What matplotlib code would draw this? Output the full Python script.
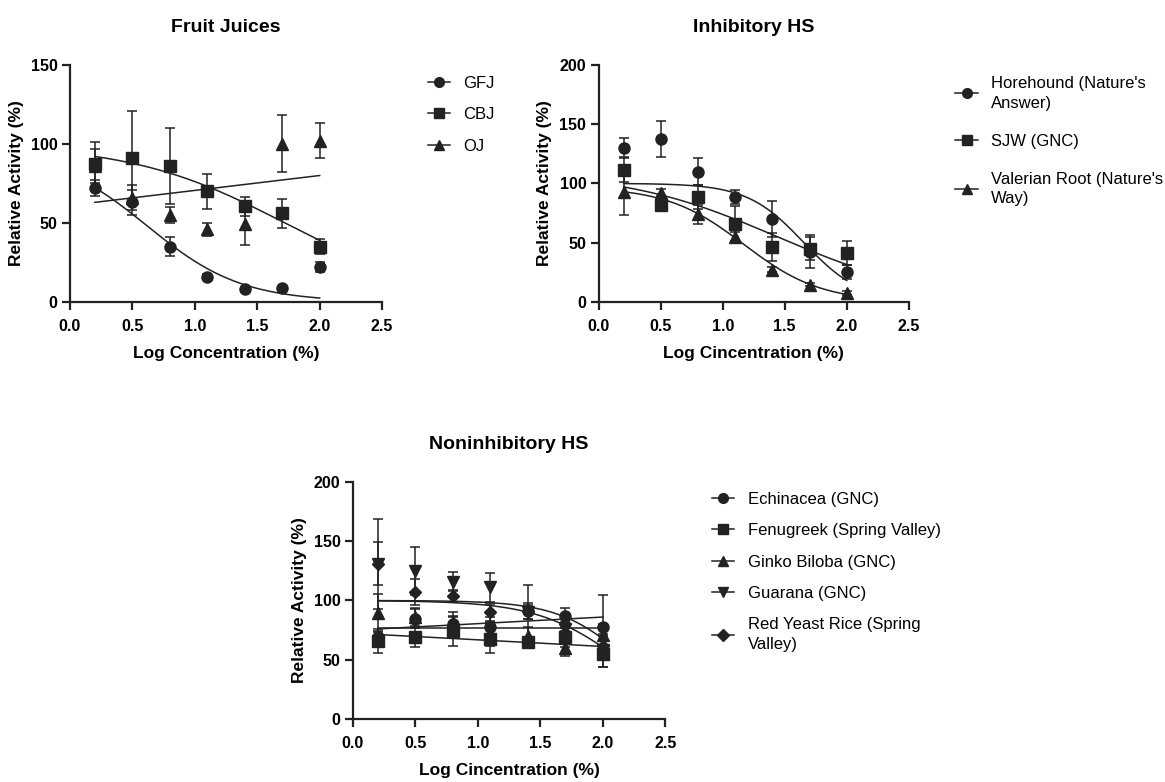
import numpy as np
import matplotlib
matplotlib.use("Agg")
import matplotlib.pyplot as plt
from matplotlib.lines import Line2D

plt.rcParams['font.family'] = ['Liberation Sans', 'DejaVu Sans']

# log concentration (%) for every series
log_conc = [0.2, 0.5, 0.8, 1.1, 1.4, 1.7, 2.0]

# --- Fruit juices ---
gfj = [72, 63, 35, 16, 8, 9, 22]
gfj_err = [5, 8, 6, 1.5, 1, 1, 3]
cbj = [87, 91, 86, 70, 60.5, 56, 35]
cbj_err = [14, 30, 24, 11, 6, 9, 5]
oj = [86, 66, 55, 46, 49, 100, 102]
oj_err = [11, 8, 5, 4, 13, 18, 11]

# --- Inhibitory herbal supplements ---
horehound = [130, 137.5, 110, 88.5, 70, 42.5, 25.5]
horehound_err = [8, 15, 11, 6, 15, 14, 6]
sjw = [111.5, 81.5, 88.5, 66, 46.5, 45, 41]
sjw_err = [10, 4, 10, 15, 12, 10, 10]
valerian = [93, 92, 74, 55, 27, 14.5, 7.5]
valerian_err = [20, 3, 8, 4, 2, 1.5, 1.5]

# --- Non-inhibitory herbal supplements ---
echinacea = [69, 84.5, 80, 78, 91, 86.5, 78]
echinacea_err = [5, 8, 7, 8, 22, 7, 27]
fenugreek = [66, 69.5, 74, 67.5, 65, 69, 55]
fenugreek_err = [10, 9, 12, 12, 2, 8, 11]
ginko = [89.5, 86, 82, 72, 70, 60, 70.5]
ginko_err = [16, 8, 8, 10, 8, 7, 10]
guarana = [131, 125, 116, 111, 90, 76, 58]
guarana_err = [18, 20, 8, 12, 6, 6, 14]
red_yeast = [131, 107, 104, 90, 91, 80, 62]
red_yeast_err = [38, 11, 5, 7, 7, 6, 8]

# fitted curves: 4PL (bottom, top, logEC50, hill) or straight line (intercept, slope)
fits_fruit = [('4pl', (0, 96, 0.62, 1.15)),
              ('4pl', (0, 100, 1.72, 0.70)),
              ('lin', (61.1, 9.44))]
fits_inhib = [('4pl', (0, 100, 1.654, 1.9)),
              ('4pl', (0, 110, 1.438, 0.705)),
              ('4pl', (0, 97, 1.17, 1.4))]
fits_noninhib = [('lin', (74.9, 5.56)),
                 ('lin', (72.4, -5.6)),
                 ('lin', (76.7, 0.0)),
                 ('4pl', (0, 100, 2.145, 1.29)),
                 ('4pl', (0, 100, 2.205, 1.56))]

INK = '#222222'


def fit_curve(kind, p, xs):
    if kind == '4pl':
        bottom, top, c, h = p
        return bottom + (top - bottom) / (1 + 10 ** ((xs - c) * h))
    return p[0] + p[1] * xs


def panel(ax, title, series, markers, fits, labels, ymax, ystep, xlabel,
          leg_anchor, leg_spacing):
    xs = np.linspace(min(log_conc), max(log_conc), 200)
    for (kind, p) in fits:
        ax.plot(xs, fit_curve(kind, p, xs), color=INK, lw=1.1, zorder=2)
    for (vals, errs), m in zip(series, markers):
        ms = 8 if m in ('o', 's') else 8.5
        if m == 'D':
            ms = 6
        ax.errorbar(log_conc, vals, yerr=errs, fmt=m, color=INK, ms=ms,
                    elinewidth=1.1, capsize=3.5, capthick=1.1, zorder=3)
    ax.set_xlim(0, 2.5)
    ax.set_ylim(0, ymax)
    ax.set_xticks(np.arange(0, 2.51, 0.5))
    ax.set_yticks(np.arange(0, ymax + 1, ystep))
    ax.set_xticklabels([f"{v:.1f}" for v in np.arange(0, 2.51, 0.5)])
    for s in ('top', 'right'):
        ax.spines[s].set_visible(False)
    for s in ('left', 'bottom'):
        ax.spines[s].set_linewidth(1.6)
        ax.spines[s].set_color(INK)
    ax.tick_params(axis='both', width=1.6, length=6, color=INK, labelsize=11.5)
    ax.tick_params(axis='x', pad=6)
    ax.tick_params(axis='y', pad=3)
    for t in ax.get_xticklabels() + ax.get_yticklabels():
        t.set_fontweight('bold')
    ax.set_xlabel(xlabel, fontsize=12.5, fontweight='bold', labelpad=9)
    ax.set_ylabel('Relative Activity (%)', fontsize=12.5, fontweight='bold', labelpad=5)
    ax.set_title(title, fontsize=14, fontweight='bold', pad=24)
    handles = [Line2D([], [], color=INK, lw=1.1, marker=m,
                      ms=(6 if m == 'D' else 7)) for m in markers]
    leg = ax.legend(handles, labels, loc='upper left', bbox_to_anchor=leg_anchor,
                    bbox_transform=ax.figure.transFigure, frameon=False, fontsize=12,
                    handlelength=1.35, handletextpad=0.8, labelspacing=leg_spacing,
                    borderpad=0, borderaxespad=0)
    for t in leg.get_texts():
        t.set_linespacing(1.4)


fig = plt.figure(figsize=(11.65, 7.82), dpi=100)
ax1 = fig.add_axes([0.060, 0.614, 0.268, 0.303])
ax2 = fig.add_axes([0.514, 0.614, 0.266, 0.303])
ax3 = fig.add_axes([0.303, 0.0806, 0.268, 0.303])

panel(ax1, 'Fruit Juices',
      [(gfj, gfj_err), (cbj, cbj_err), (oj, oj_err)], ['o', 's', '^'],
      fits_fruit, ['GFJ', 'CBJ', 'OJ'], 150, 50,
      'Log Concentration (%)', (0.367, 0.903), 0.98)

panel(ax2, 'Inhibitory HS',
      [(horehound, horehound_err), (sjw, sjw_err), (valerian, valerian_err)],
      ['o', 's', '^'], fits_inhib,
      ["Horehound (Nature's\nAnswer)", 'SJW (GNC)', "Valerian Root (Nature's\nWay)"],
      200, 50, 'Log Cincentration (%)', (0.820, 0.903), 1.38)

panel(ax3, 'Noninhibitory HS',
      [(echinacea, echinacea_err), (fenugreek, fenugreek_err), (ginko, ginko_err),
       (guarana, guarana_err), (red_yeast, red_yeast_err)],
      ['o', 's', '^', 'v', 'D'], fits_noninhib,
      ['Echinacea (GNC)', 'Fenugreek (Spring Valley)', 'Ginko Biloba (GNC)',
       'Guarana (GNC)', 'Red Yeast Rice (Spring\nValley)'],
      200, 50, 'Log Cincentration (%)', (0.611, 0.371), 0.98)

fig.savefig('out.png', dpi=100)
